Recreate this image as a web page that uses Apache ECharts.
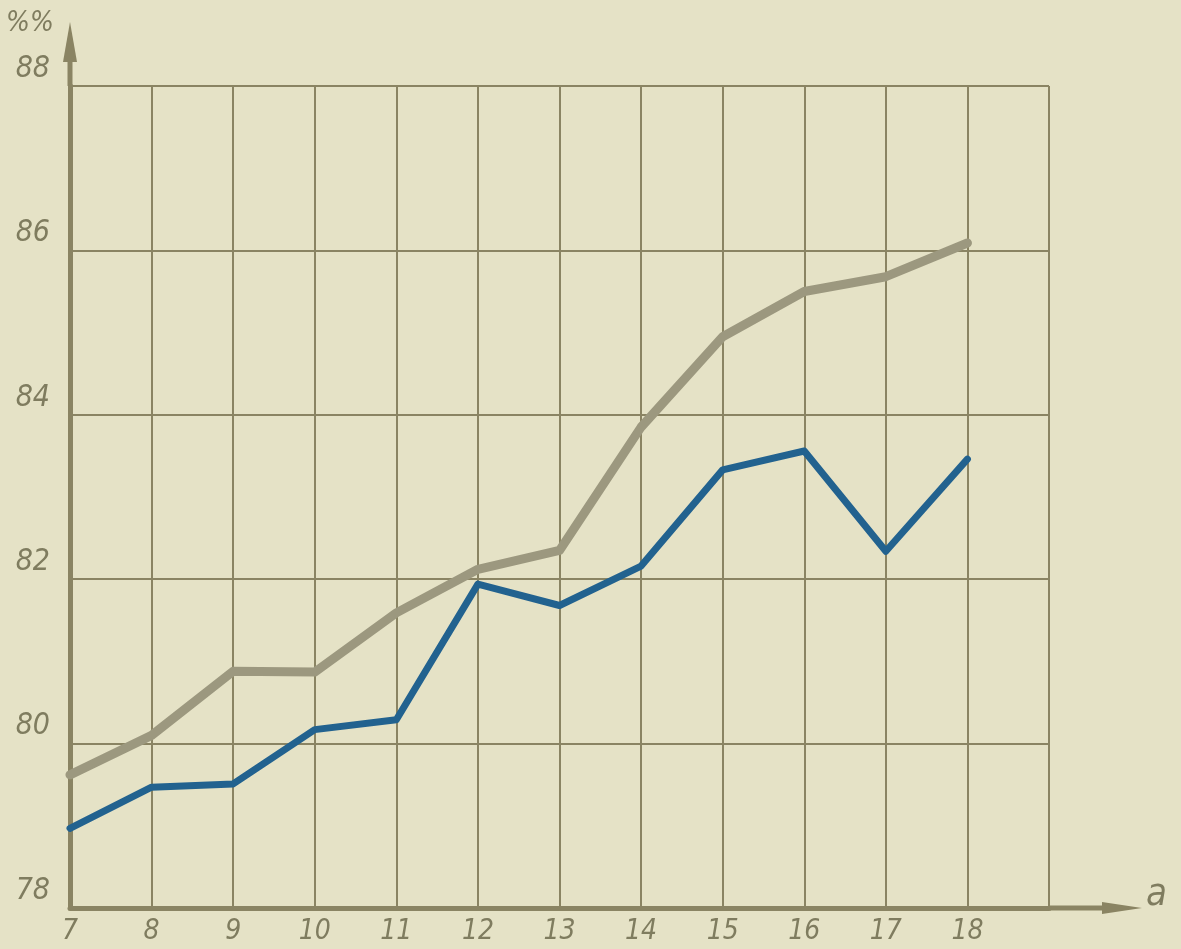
<!DOCTYPE html>
<html>
<head>
<meta charset="utf-8">
<script src="https://cdn.jsdelivr.net/npm/echarts@6/dist/echarts.min.js"></script>
<style>
html,body{margin:0;padding:0;background:#e5e2c6;}
#c{width:1181px;height:949px;}
</style>
</head>
<body>
<div id="c"></div>
<script>
// ages on the x axis, percentages on y
const ages = [7, 8, 9, 10, 11, 12, 13, 14, 15, 16, 17, 18];
const grayVals = [79.62, 80.1, 80.88, 80.87, 81.59, 82.12, 82.35, 83.85, 84.95, 85.5, 85.68, 86.09];
const blueVals = [78.97, 79.47, 79.51, 80.17, 80.29, 81.94, 81.68, 82.16, 83.33, 83.56, 82.34, 83.46];
const yTicks = [78, 80, 82, 84, 86, 88];

const ink = "#8a8463";
const labelInk = "#7f7c5f";
const fam = "'DejaVu Sans Condensed', 'DejaVu Sans', sans-serif";

const chart = echarts.init(document.getElementById("c"), null, {renderer: "canvas"});
const pairs = (xs, ys) => xs.map((x, i) => [x, ys[i]]);

chart.setOption({
  backgroundColor: "#e5e2c6",
  animation: false,
  grid: {left: 70, right: 132, top: 86, bottom: 41},
  xAxis: {
    type: "value", min: 7, max: 19, interval: 1,
    axisLine: {show: true, lineStyle: {color: ink, width: 5}},
    axisTick: {show: false},
    splitLine: {show: true, lineStyle: {color: ink, width: 2}},
    axisLabel: {
      color: labelInk, fontStyle: "italic", fontSize: 28, fontFamily: fam,
      margin: 10,
      formatter: v => (ages.includes(v) ? String(v) : "")
    }
  },
  yAxis: {
    type: "value", min: 78, max: 88, interval: 2,
    axisLine: {show: true, lineStyle: {color: ink, width: 5}},
    axisTick: {show: false},
    splitLine: {show: true, lineStyle: {color: ink, width: 2}},
    axisLabel: {
      color: labelInk, fontStyle: "italic", fontSize: 30, fontFamily: fam,
      margin: 20, verticalAlign: "bottom", lineHeight: 34,
      formatter: v => (yTicks.includes(v) ? String(v) : "")
    }
  },
  series: [
    {
      type: "line", data: pairs(ages, grayVals), symbol: "none",
      lineStyle: {color: "#9c987f", width: 9, cap: "round", join: "round"}
    },
    {
      type: "line", data: pairs(ages, blueVals), symbol: "none",
      lineStyle: {color: "#22628f", width: 7, cap: "round", join: "round"}
    }
  ]
});

// axis extensions with arrowheads, and the axis captions
const origin = chart.convertToPixel({gridIndex: 0}, [7, 78]);
const corner = chart.convertToPixel({gridIndex: 0}, [19, 88]);
const ox = origin[0], oy = origin[1];
chart.setOption({
  graphic: [
    {type: "line", shape: {x1: ox, y1: corner[1], x2: ox, y2: 40}, style: {stroke: ink, lineWidth: 5}},
    {type: "polygon", shape: {points: [[ox, 22], [ox - 7, 62], [ox + 7, 62]]}, style: {fill: ink}},
    {type: "line", shape: {x1: corner[0], y1: oy, x2: 1120, y2: oy}, style: {stroke: ink, lineWidth: 5}},
    {type: "polygon", shape: {points: [[1142, oy], [1102, oy - 6], [1102, oy + 6]]}, style: {fill: ink}},
    {type: "text", left: 6, top: 10, style: {text: "%%", font: "italic 28px " + fam, fill: labelInk}},
    {type: "text", left: 1146, top: oy - 32, style: {text: "a", font: "italic 38px " + fam, fill: labelInk}}
  ]
});
</script>
</body>
</html>
